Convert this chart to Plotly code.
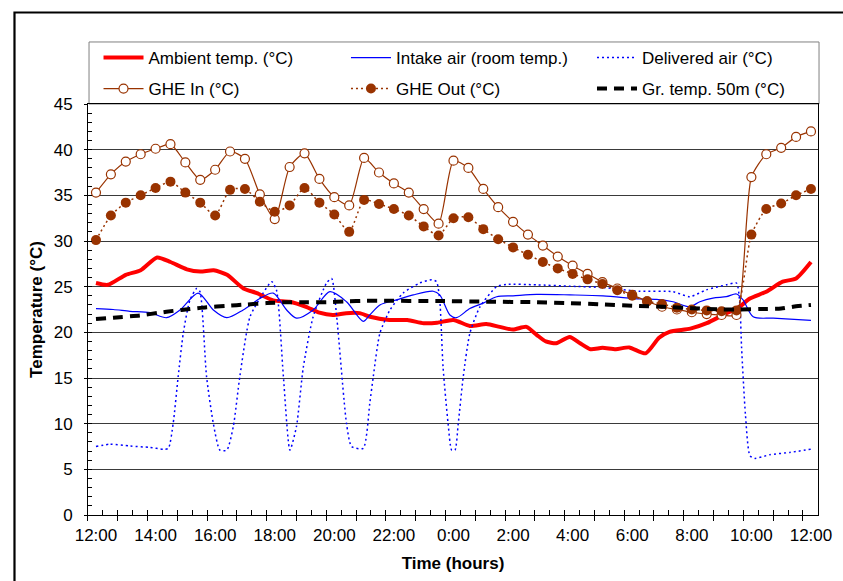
import plotly.graph_objects as go

FONT = "Liberation Sans, Arial, sans-serif"
BROWN = "#993300"

# ---- data (time in hours after 12:00 noon) ----
# GHE inlet / outlet, half-hourly readings
ghe_hours = [i * 0.5 for i in range(49)]
ghe_in = [35.3, 37.3, 38.7, 39.5, 40.1, 40.6, 38.6, 36.7, 37.8, 39.8,
          39.0, 35.1, 32.4, 38.1, 39.6, 36.8, 34.8, 33.9, 39.1, 37.5,
          36.3, 35.3, 33.5, 31.9, 38.8, 38.0, 35.7, 33.7, 32.1, 30.7,
          29.5, 28.3, 27.3, 26.4, 25.5, 24.8, 24.1, 23.4, 22.8, 22.5,
          22.2, 22.0, 21.9, 21.9, 37.0, 39.5, 40.2, 41.4, 42.0]
ghe_out = [30.1, 32.8, 34.2, 35.0, 35.8, 36.5, 35.3, 34.2, 32.8, 35.6,
           35.7, 34.3, 33.2, 33.9, 35.8, 34.2, 32.9, 31.0, 34.5, 34.05,
           33.5, 32.8, 31.6, 30.6, 32.5, 32.6, 31.3, 30.2, 29.3, 28.5,
           27.7, 27.0, 26.4, 25.8, 25.3, 24.6, 24.0, 23.4, 23.1, 22.7,
           22.5, 22.4, 22.3, 22.4, 30.7, 33.5, 34.1, 35.0, 35.7]

# Ambient temperature
amb_hours = [0.0, 0.4, 1.0, 1.5, 2.05, 2.5, 3.05, 3.5, 3.95, 4.4, 4.95, 5.4,
             5.95, 6.5, 7.05, 7.5, 7.95, 8.4, 8.85, 9.2, 9.85, 10.45, 11.0,
             11.45, 12.0, 12.55, 13.1, 13.55, 14.0, 14.45, 14.8, 15.1, 15.45,
             15.9, 16.25, 16.6, 17.0, 17.45, 17.9, 18.45, 18.9, 19.25, 19.95,
             20.5, 21.05, 21.6, 21.95, 22.5, 23.05, 23.5, 24.0]
amb_temp = [25.4, 25.2, 26.3, 26.8, 28.2, 27.7, 26.9, 26.65, 26.8, 26.3, 24.8,
            24.3, 23.5, 23.35, 22.8, 22.15, 21.9, 22.1, 22.1, 21.7, 21.35,
            21.35, 21.0, 21.05, 21.35, 20.7, 20.9, 20.6, 20.3, 20.6, 19.7,
            19.0, 18.8, 19.5, 18.8, 18.15, 18.3, 18.15, 18.35, 17.7, 19.4,
            20.05, 20.4, 21.0, 21.9, 22.8, 23.7, 24.45, 25.55, 25.9, 27.7]

# Intake air (room temperature)
intake_hours = [0.0, 0.58, 1.14, 1.81, 2.37, 2.82, 3.43, 3.94, 4.39, 4.94, 5.5,
                5.95, 6.4, 6.73, 7.29, 7.85, 8.41, 8.97, 9.19, 9.53, 10.09,
                10.65, 11.32, 11.54, 11.88, 12.1, 12.55, 13.0, 13.45, 14.0,
                14.79, 15.91, 17.02, 18.26, 18.81, 19.37, 19.93, 20.27, 20.71,
                21.16, 21.5, 21.72, 22.06, 22.73, 24.0]
intake_temp = [22.6, 22.5, 22.3, 22.15, 21.6, 22.45, 24.3, 22.45, 21.6, 22.45,
               23.7, 24.3, 22.45, 21.55, 22.45, 24.45, 23.35, 21.2, 21.9, 23.0,
               23.55, 24.1, 24.5, 24.1, 21.9, 21.6, 22.6, 23.2, 23.9, 24.0,
               24.15, 24.1, 24.0, 23.65, 23.6, 23.35, 22.8, 23.35, 23.75, 23.9,
               24.2, 23.55, 21.7, 21.55, 21.3]

# Delivered air
deliv_hours = [0.0, 0.47, 1.14, 1.81, 2.26, 2.43, 2.59, 2.76, 2.93, 3.15, 3.38,
               3.49, 3.71, 3.94, 4.16, 4.39, 4.61, 4.83, 5.17, 5.61, 5.90, 6.06,
               6.29, 6.51, 6.73, 6.96, 7.29, 7.74, 7.91, 8.08, 8.41, 8.58, 8.97,
               9.19, 9.31, 9.53, 9.87, 10.31, 10.87, 11.27, 11.43, 11.54, 11.65,
               11.82, 11.94, 12.05, 12.16, 12.33, 12.55, 12.89, 13.45, 13.78,
               14.79, 15.91, 17.02, 18.26, 19.37, 19.93, 20.49, 21.16, 21.5,
               21.61, 21.67, 21.8, 21.95, 22.11, 22.62, 23.29, 24.0]
deliv_temp = [7.5, 7.75, 7.55, 7.4, 7.2, 7.3, 10.0, 15.2, 19.9, 23.5, 24.8,
              24.45, 15.2, 10.0, 7.1, 7.1, 9.7, 15.2, 21.7, 24.3, 25.55, 24.6,
              15.2, 7.1, 9.7, 16.2, 21.7, 25.4, 25.9, 21.7, 10.0, 7.5, 7.3,
              12.2, 15.2, 19.9, 22.45, 24.3, 25.4, 25.75, 25.55, 23.5, 16.2,
              10.0, 7.1, 7.1, 10.0, 15.2, 19.9, 22.8, 25.0, 25.25, 25.2, 25.05,
              24.9, 24.5, 24.45, 23.9, 24.65, 25.2, 25.4, 23.2, 18.4, 11.0,
              6.5, 6.2, 6.6, 6.85, 7.2]

# Ground temperature at 50 m
ground_hours = [0.0, 0.58, 1.47, 2.14, 2.59, 3.15, 3.71, 4.38, 5.06, 5.73, 6.4,
                7.07, 7.74, 8.41, 9.08, 9.53, 11.43, 13.11, 14.79, 15.91, 17.02,
                18.14, 19.04, 20.0, 21.0, 21.6, 22.3, 23.0, 23.5, 24.0]
ground_temp = [21.45, 21.6, 21.85, 22.15, 22.35, 22.55, 22.75, 22.9, 23.05,
               23.2, 23.3, 23.3, 23.3, 23.4, 23.45, 23.45, 23.43, 23.36, 23.3,
               23.2, 23.05, 22.9, 22.8, 22.65, 22.5, 22.5, 22.55, 22.6, 22.85,
               23.0]

# ---- axis ticks ----
x_label_vals = [0, 2, 4, 6, 8, 10, 12, 14, 16, 18, 20, 22, 24]
x_label_text = ["12:00", "14:00", "16:00", "18:00", "20:00", "22:00", "0:00",
                "2:00", "4:00", "6:00", "8:00", "10:00", "12:00"]
y_tick_vals = [0, 5, 10, 15, 20, 25, 30, 35, 40, 45]

TICK_SHIFT = -0.27
x_hour_ticks = [TICK_SHIFT + k for k in range(25)]
x_half_ticks = [TICK_SHIFT + 0.5 * k for k in range(49)]
X_RANGE = [-0.268, 24.236]
Y_RANGE = [0, 45]

fig = go.Figure()

fig.add_trace(go.Scatter(
    x=amb_hours, y=amb_temp, name="Ambient temp. (°C)", mode="lines",
    line=dict(color="#ff0000", width=4, shape="spline", smoothing=0.6),
    legend="legend"))
fig.add_trace(go.Scatter(
    x=intake_hours, y=intake_temp, name="Intake air (room temp.)", mode="lines",
    line=dict(color="#0000ff", width=1.2, shape="spline", smoothing=0.8),
    legend="legend2"))
fig.add_trace(go.Scatter(
    x=deliv_hours, y=deliv_temp, name="Delivered air (°C)", mode="lines",
    line=dict(color="#0000ff", width=1.5, dash="2px,3px", shape="spline",
              smoothing=0.6),
    legend="legend3"))
fig.add_trace(go.Scatter(
    x=ghe_hours, y=ghe_in, name="GHE In (°C)", mode="lines+markers",
    line=dict(color=BROWN, width=1.2, shape="spline", smoothing=0.6),
    marker=dict(symbol="circle", size=9, color="white",
                line=dict(color=BROWN, width=1.2)),
    legend="legend4"))
fig.add_trace(go.Scatter(
    x=ghe_hours, y=ghe_out, name="GHE Out (°C)", mode="lines+markers",
    line=dict(color=BROWN, width=1.5, dash="2px,3px", shape="spline",
              smoothing=0.6),
    marker=dict(symbol="circle", size=10, color=BROWN,
                line=dict(color=BROWN, width=0)),
    legend="legend5"))
fig.add_trace(go.Scatter(
    x=ground_hours, y=ground_temp, name="Gr. temp. 50m (°C)", mode="lines",
    line=dict(color="#000000", width=4, dash="10px,7px", shape="spline",
              smoothing=0.6),
    legend="legend6"))

# empty traces so the overlay tick axes are laid out
fig.add_trace(go.Scatter(x=[], y=[], xaxis="x2", yaxis="y2", showlegend=False))
fig.add_trace(go.Scatter(x=[], y=[], xaxis="x3", yaxis="y", showlegend=False))

FS = 17
tick_font = dict(family=FONT, size=FS, color="#000000")
title_font = dict(family=FONT, size=FS, color="#000000", weight="bold")


def legend_box(x, y):
    return dict(x=x, y=y, orientation="h", xanchor="left", yanchor="middle",
                itemwidth=40, bgcolor="rgba(0,0,0,0)", borderwidth=0,
                font=tick_font)


# three legend columns, two rows
COL_X = [0.0144, 0.3534, 0.6904]
ROW_Y = [1.1119, 1.0365]

fig.update_layout(
    width=843, height=581,
    margin=dict(l=88, r=25, t=104, b=66, pad=0, autoexpand=False),
    paper_bgcolor="white", plot_bgcolor="white",
    font=dict(family=FONT, size=FS, color="#000000"),
    showlegend=True,
    legend=legend_box(COL_X[0], ROW_Y[0]),
    legend2=legend_box(COL_X[1], ROW_Y[0]),
    legend3=legend_box(COL_X[2], ROW_Y[0]),
    legend4=legend_box(COL_X[0], ROW_Y[1]),
    legend5=legend_box(COL_X[1], ROW_Y[1]),
    legend6=legend_box(COL_X[2], ROW_Y[1]),
    xaxis=dict(
        range=X_RANGE, tickmode="array", tickvals=x_label_vals,
        ticktext=x_label_text, ticks="", tickfont=tick_font,
        ticklabelstandoff=5, automargin=False,
        showgrid=False, zeroline=False, showline=True, linecolor="#000000",
        linewidth=1, mirror=True,
        title=dict(text="Time (hours)", font=title_font, standoff=12)),
    xaxis2=dict(
        range=X_RANGE, overlaying="x", anchor="y", side="bottom",
        tickmode="array", tickvals=x_half_ticks, ticks="inside", ticklen=5,
        tickcolor="#000000", showticklabels=False, showgrid=False,
        zeroline=False, showline=False),
    xaxis3=dict(
        range=X_RANGE, overlaying="x", anchor="y", side="bottom",
        tickmode="array", tickvals=x_hour_ticks, ticks="outside", ticklen=5,
        tickcolor="#000000", showticklabels=False, showgrid=False,
        zeroline=False, showline=False),
    yaxis=dict(
        range=Y_RANGE, tickmode="array", tickvals=y_tick_vals,
        ticks="outside", ticklen=3, tickcolor="#000000", tickfont=tick_font,
        ticklabelstandoff=8, automargin=False,
        showgrid=True, gridcolor="#3a3a3a", gridwidth=1, zeroline=False,
        showline=True, linecolor="#000000", linewidth=1, mirror=True,
        title=dict(text="Temperature (°C)", font=title_font, standoff=6)),
    yaxis2=dict(
        range=Y_RANGE, overlaying="y", anchor="x", side="left",
        tickmode="linear", tick0=0, dtick=1, ticks="inside", ticklen=4,
        tickcolor="#000000", showticklabels=False, showgrid=False,
        zeroline=False, showline=False),
    shapes=[
        # legend frame
        dict(type="rect", xref="paper", yref="paper",
             x0=0.0014, x1=1.0014, y0=1.0, y1=1.1509,
             line=dict(color="#808080", width=1), fillcolor="white",
             layer="below"),
        # chart-area frame
        dict(type="rect", xref="paper", yref="paper",
             x0=-0.1007, x1=1.2, y0=-0.3, y1=1.2226,
             line=dict(color="#000000", width=2.2), fillcolor="rgba(0,0,0,0)",
             layer="above"),
    ],
)

fig.write_html("out.html")
